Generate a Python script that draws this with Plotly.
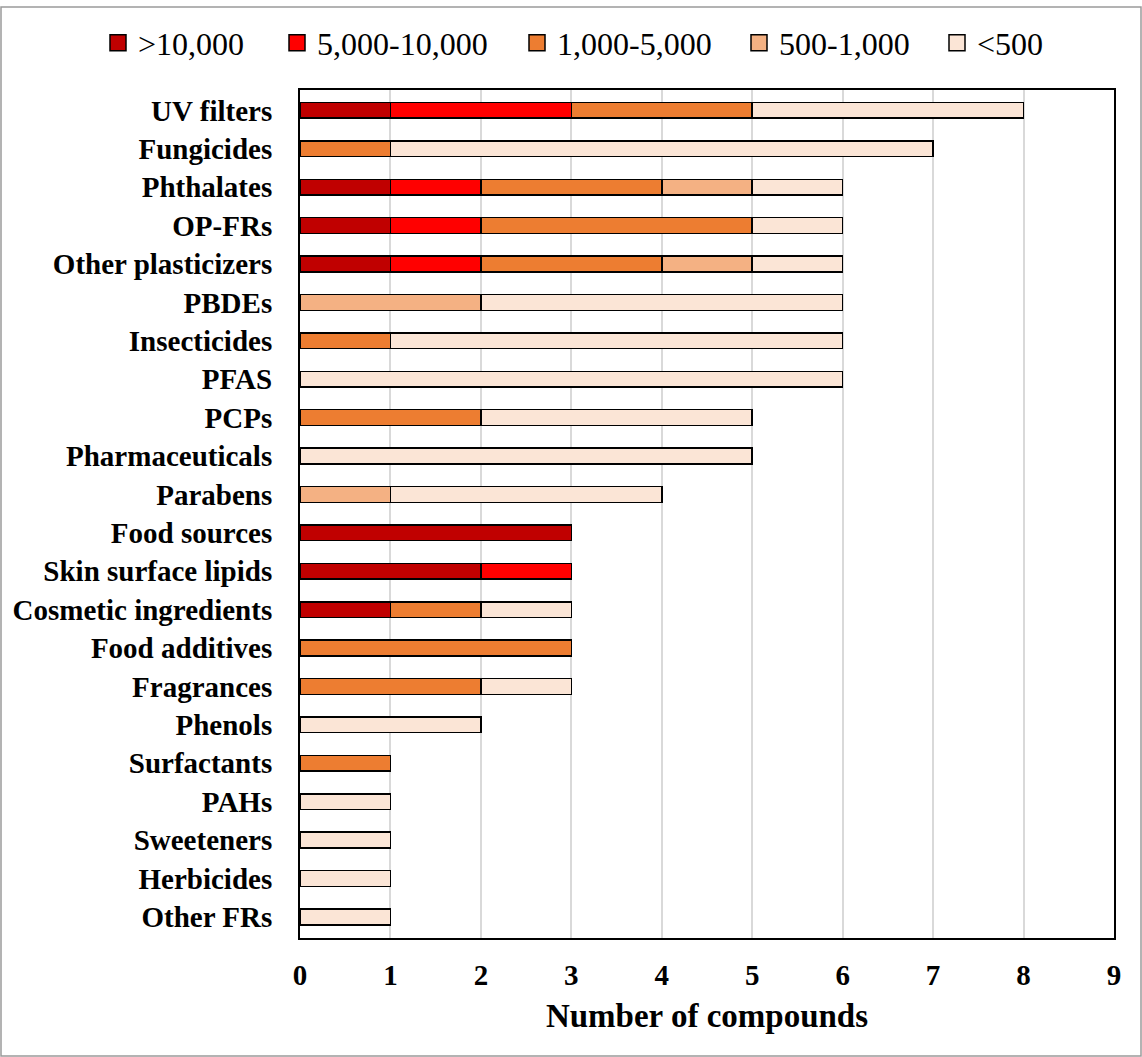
import plotly.graph_objects as go

categories = ["UV filters", "Fungicides", "Phthalates", "OP-FRs", "Other plasticizers",
              "PBDEs", "Insecticides", "PFAS", "PCPs", "Pharmaceuticals", "Parabens",
              "Food sources", "Skin surface lipids", "Cosmetic ingredients", "Food additives",
              "Fragrances", "Phenols", "Surfactants", "PAHs", "Sweeteners", "Herbicides",
              "Other FRs"]

over_10000 = [1, 0, 1, 1, 1, 0, 0, 0, 0, 0, 0, 3, 2, 1, 0, 0, 0, 0, 0, 0, 0, 0]
r5000_10000 = [2, 0, 1, 1, 1, 0, 0, 0, 0, 0, 0, 0, 1, 0, 0, 0, 0, 0, 0, 0, 0, 0]
r1000_5000 = [2, 1, 2, 3, 2, 0, 1, 0, 2, 0, 0, 0, 0, 1, 3, 2, 0, 1, 0, 0, 0, 0]
r500_1000 = [0, 0, 1, 0, 1, 2, 0, 0, 0, 0, 1, 0, 0, 0, 0, 0, 0, 0, 0, 0, 0, 0]
under_500 = [3, 6, 1, 1, 1, 4, 5, 6, 3, 5, 3, 0, 0, 1, 0, 1, 2, 0, 1, 1, 1, 1]

series_names = [">10,000", "5,000-10,000", "1,000-5,000", "500-1,000", "<500"]
series_values = [over_10000, r5000_10000, r1000_5000, r500_1000, under_500]
series_colors = ["#C00000", "#FF0000", "#ED7D31", "#F4B183", "#FBE5D6"]

x_ticks = list(range(0, 10))

W, H = 1142, 1057
L, R, T, B = 300, 28, 90, 119
pw, ph = W - L - R, H - T - B


def px_x(p):
    return (p - L) / pw


def px_y(p):
    return (H - B - p) / ph


legend_left_px = [98, 277, 517, 739, 937]
legend_ids = ["legend", "legend2", "legend3", "legend4", "legend5"]

fig = go.Figure()
for name, vals, color, lid in zip(series_names, series_values, series_colors, legend_ids):
    fig.add_trace(go.Bar(
        y=categories,
        x=[v if v != 0 else None for v in vals],
        name=name,
        orientation="h",
        legendgroup=name,
        showlegend=False,
        marker=dict(color=color, line=dict(color="black", width=1.5)),
    ))
    fig.add_trace(go.Scatter(
        x=[None], y=[None],
        mode="markers",
        name=name,
        legendgroup=name,
        legend=lid,
        showlegend=True,
        marker=dict(symbol="square", size=18, color=color,
                    line=dict(color="black", width=1.5)),
    ))

legend_common = dict(
    orientation="h",
    xanchor="left",
    yanchor="middle",
    y=px_y(43),
    font=dict(size=32, family="Liberation Serif", color="black"),
    bgcolor="rgba(0,0,0,0)",
    itemwidth=30,
)

layout_legends = {}
for lid, lx in zip(legend_ids, legend_left_px):
    layout_legends[lid] = dict(legend_common, x=px_x(lx))

fig.update_layout(
    width=W, height=H,
    barmode="stack",
    bargap=0.59,
    plot_bgcolor="white",
    paper_bgcolor="white",
    margin=dict(l=L, r=R, t=T, b=B, autoexpand=False),
    font=dict(family="Liberation Serif", color="black"),
    xaxis=dict(
        range=[0, 9],
        tickvals=x_ticks,
        ticktext=[str(t) for t in x_ticks],
        showgrid=True,
        gridcolor="#D9D9D9",
        gridwidth=1.5,
        zeroline=False,
        showline=True,
        linecolor="black",
        linewidth=2,
        mirror=True,
        ticks="",
        ticklabelstandoff=10,
        tickfont=dict(size=29, family="Liberation Serif", color="black", weight="bold"),
        title=dict(text="<b>Number of compounds</b>",
                   font=dict(size=33, family="Liberation Serif", color="black"),
                   standoff=14),
    ),
    yaxis=dict(
        type="category",
        range=[21.55, -0.53],
        showgrid=False,
        showline=True,
        linecolor="black",
        linewidth=2,
        mirror=True,
        ticks="",
        ticklabelstandoff=20,
        tickfont=dict(size=29, family="Liberation Serif", color="black", weight="bold"),
    ),
    shapes=[
        dict(type="rect", xref="paper", yref="paper",
             x0=px_x(1), x1=px_x(1141), y0=px_y(1056), y1=px_y(7),
             line=dict(color="#9A9A9A", width=1.5), fillcolor="rgba(0,0,0,0)", layer="below"),
    ],
    **layout_legends,
)

fig.write_html("out.html", config={"displayModeBar": False},
               post_script="document.body.style.margin='0';")
